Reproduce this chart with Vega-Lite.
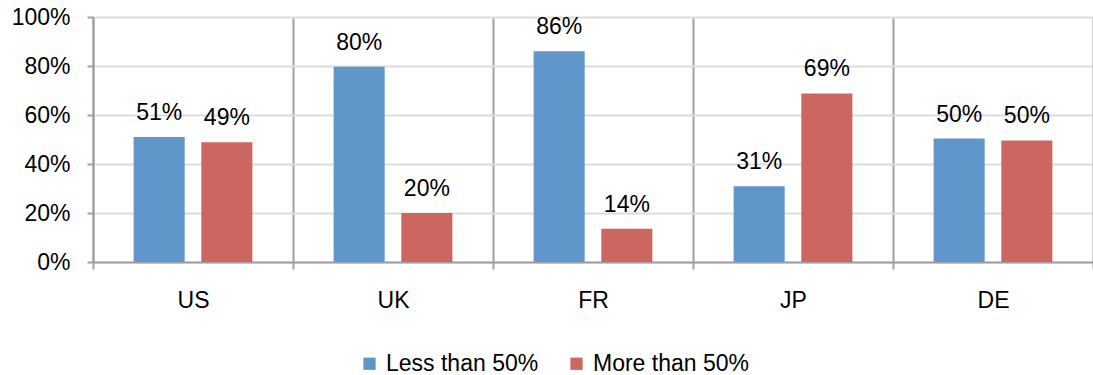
{
  "$schema": "https://vega.github.io/schema/vega-lite/v6.json",
  "autosize": {"type": "none"},
  "width": 1000,
  "height": 245,
  "padding": {"left": 93, "top": 17, "right": 0, "bottom": 113},
  "background": "white",
  "config": {
    "view": {"stroke": null},
    "font": "Liberation Sans",
    "axis": {"labelFont": "Liberation Sans", "labelColor": "black", "labelFontSize": 23}
  },
  "data": {
    "values": [
      {"country": "US", "series": "Less than 50%", "value": 0.51},
      {"country": "US", "series": "More than 50%", "value": 0.489},
      {"country": "UK", "series": "Less than 50%", "value": 0.797},
      {"country": "UK", "series": "More than 50%", "value": 0.2},
      {"country": "FR", "series": "Less than 50%", "value": 0.86},
      {"country": "FR", "series": "More than 50%", "value": 0.136},
      {"country": "JP", "series": "Less than 50%", "value": 0.309},
      {"country": "JP", "series": "More than 50%", "value": 0.688},
      {"country": "DE", "series": "Less than 50%", "value": 0.504},
      {"country": "DE", "series": "More than 50%", "value": 0.496}
    ]
  },
  "encoding": {
    "x": {
      "field": "country",
      "type": "nominal",
      "sort": ["US", "UK", "FR", "JP", "DE"],
      "scale": {"paddingInner": 0, "paddingOuter": 0},
      "axis": {
        "title": null,
        "labelAngle": 0,
        "tickBand": "extent",
        "grid": true,
        "gridColor": "#a0a0a0",
        "gridWidth": 2,
        "domainColor": "#a0a0a0",
        "domainWidth": 2,
        "tickColor": "#a0a0a0",
        "tickWidth": 2,
        "tickSize": 7,
        "labelPadding": 20
      }
    },
    "xOffset": {
      "field": "series",
      "type": "nominal",
      "scale": {"paddingInner": 0.246, "paddingOuter": 0.6}
    },
    "y": {
      "field": "value",
      "type": "quantitative",
      "scale": {"domain": [0, 1], "nice": false},
      "axis": {
        "title": null,
        "values": [0, 0.2, 0.4, 0.6, 0.8, 1],
        "format": ".0%",
        "grid": true,
        "gridColor": "#dcdcdc",
        "gridWidth": 2,
        "domainColor": "#a0a0a0",
        "domainWidth": 2,
        "tickColor": "#a0a0a0",
        "tickWidth": 2,
        "tickSize": 6,
        "labelPadding": 17
      }
    }
  },
  "layer": [
    {
      "mark": {"type": "bar"},
      "encoding": {
        "color": {
          "field": "series",
          "type": "nominal",
          "scale": {"domain": ["Less than 50%", "More than 50%"], "range": ["#6096c9", "#cc6660"]},
          "legend": {
            "title": null,
            "orient": "none",
            "direction": "horizontal",
            "legendX": 265,
            "legendY": 335,
            "symbolType": "square",
            "symbolSize": 150,
            "symbolStrokeWidth": 0,
            "labelFontSize": 23,
            "labelFont": "Liberation Sans",
            "labelColor": "black",
            "labelOffset": 5,
            "columnPadding": 26
          }
        }
      }
    },
    {
      "mark": {"type": "text", "baseline": "alphabetic", "dy": -17, "fontSize": 23, "color": "black", "font": "Liberation Sans"},
      "encoding": {
        "text": {"field": "value", "type": "quantitative", "format": ".0%"}
      }
    }
  ]
}
